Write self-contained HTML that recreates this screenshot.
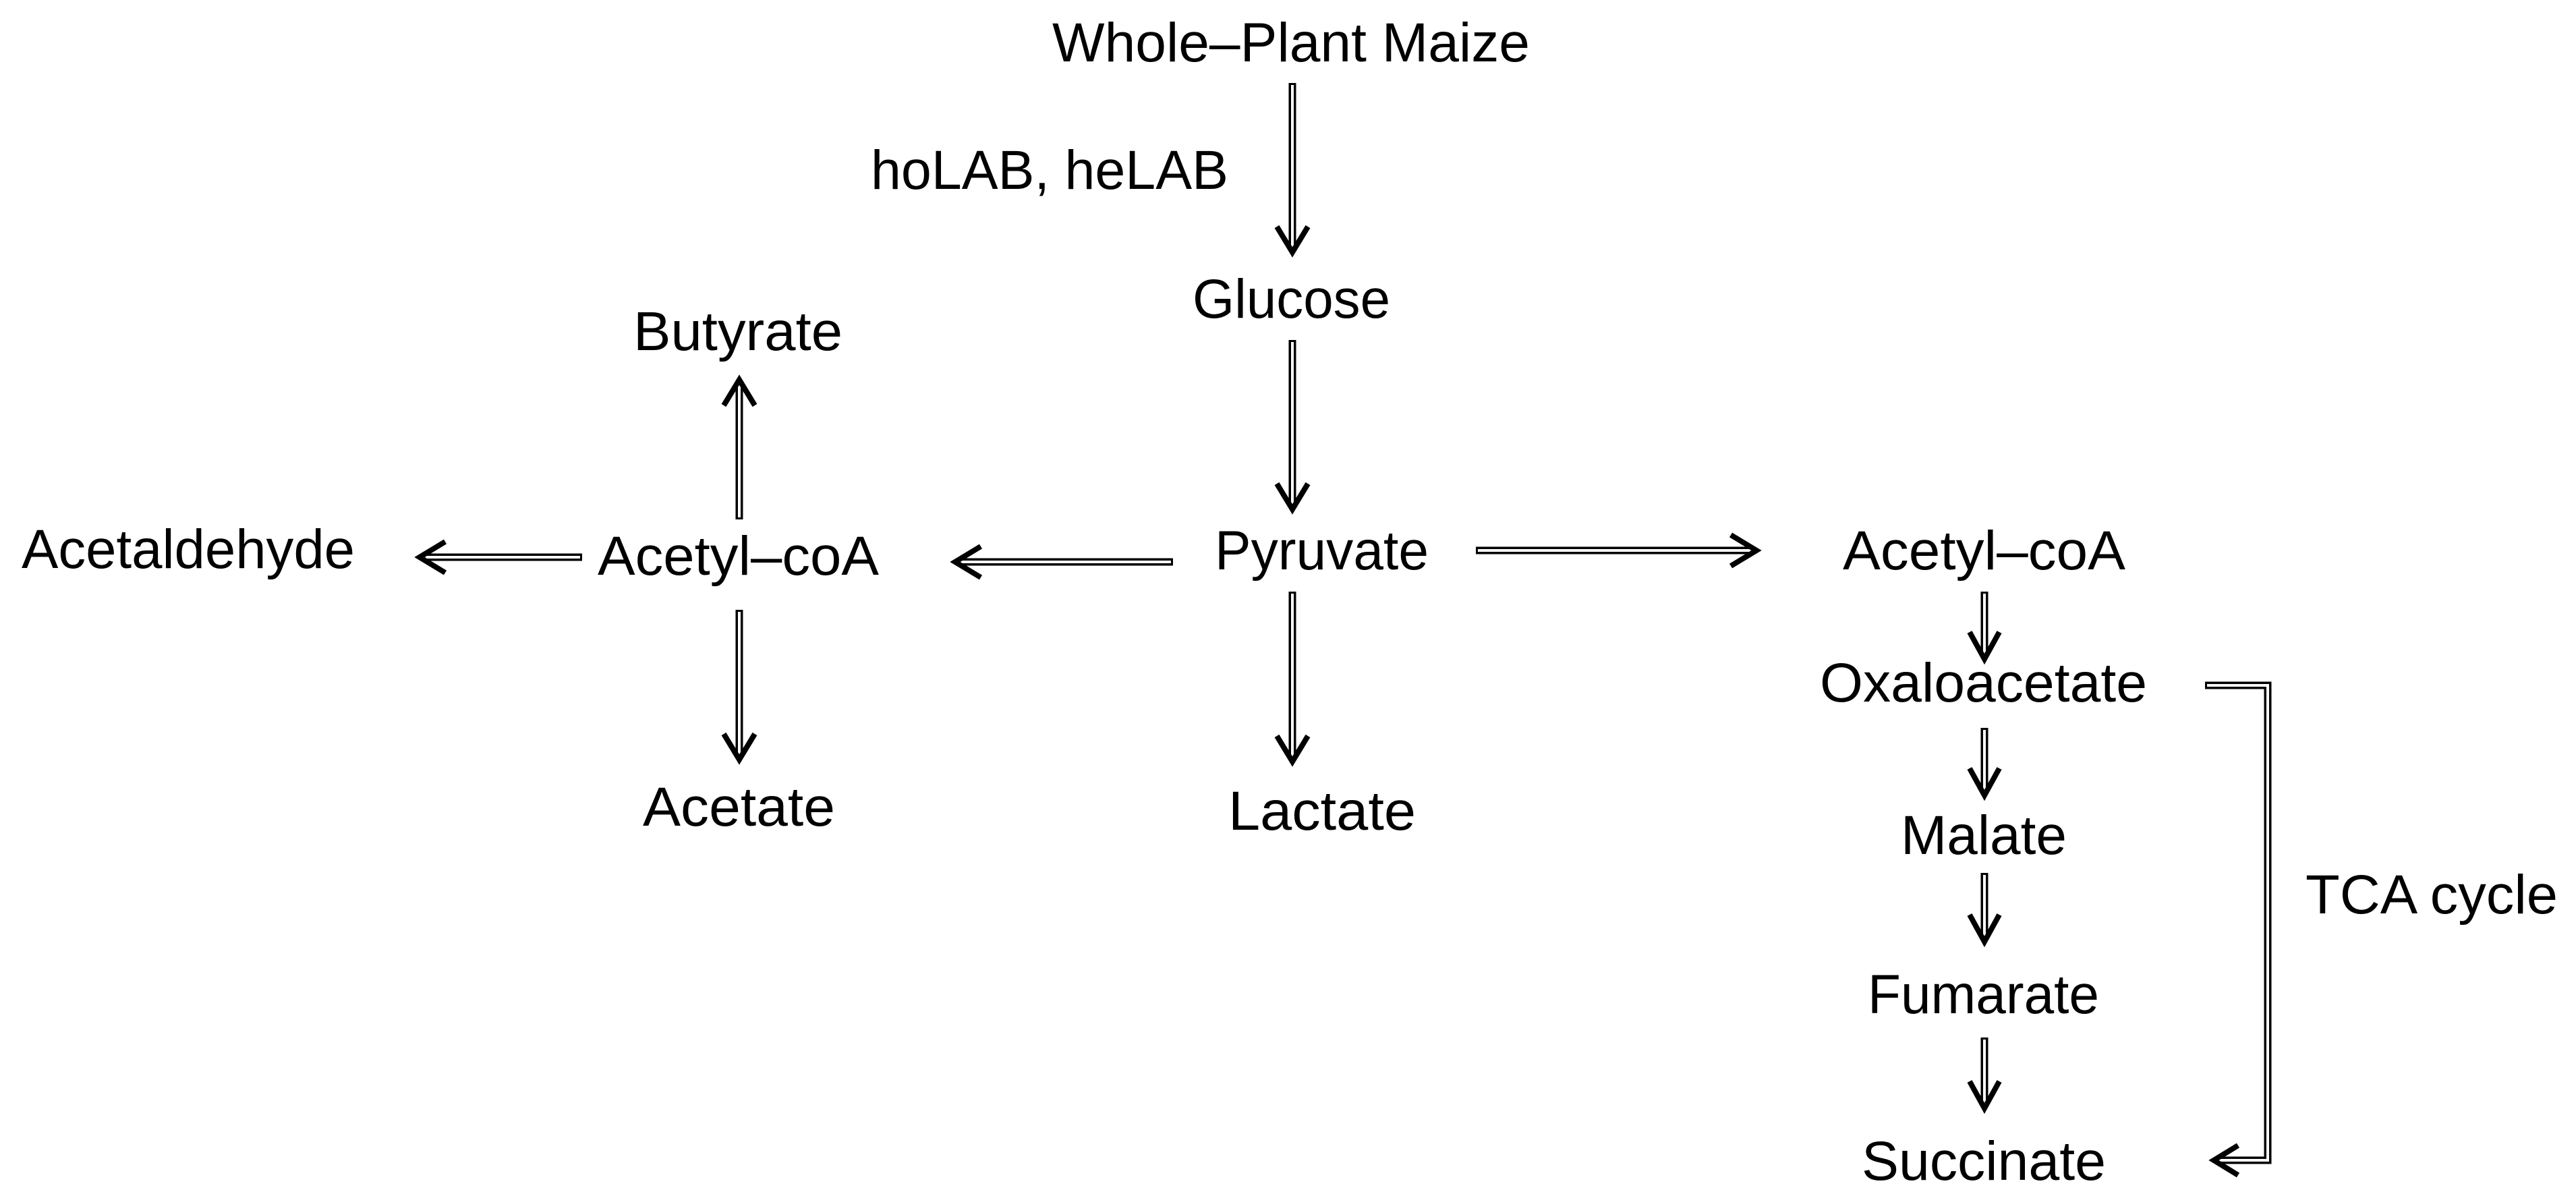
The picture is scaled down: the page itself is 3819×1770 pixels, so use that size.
<!DOCTYPE html>
<html><head><meta charset="utf-8">
<style>
html,body{margin:0;padding:0;background:#fff;}
svg{display:block;}
text{font-family:"Liberation Sans",sans-serif;font-size:82px;fill:#000;}
</style></head>
<body>
<svg width="3819" height="1770" viewBox="0 0 3819 1770" xmlns="http://www.w3.org/2000/svg">
<rect width="3819" height="1770" fill="#fff"/>
<g>
<text x="1560" y="91" textLength="708" lengthAdjust="spacingAndGlyphs">Whole–Plant Maize</text>
<text x="1291" y="280" textLength="530" lengthAdjust="spacingAndGlyphs">hoLAB, heLAB</text>
<text x="1768" y="471" textLength="293" lengthAdjust="spacingAndGlyphs">Glucose</text>
<text x="1801" y="844" textLength="317" lengthAdjust="spacingAndGlyphs">Pyruvate</text>
<text x="1821" y="1230" textLength="278" lengthAdjust="spacingAndGlyphs">Lactate</text>
<text x="939" y="519" textLength="310" lengthAdjust="spacingAndGlyphs">Butyrate</text>
<text x="32" y="842" textLength="494" lengthAdjust="spacingAndGlyphs">Acetaldehyde</text>
<text x="886" y="852" textLength="417" lengthAdjust="spacingAndGlyphs">Acetyl–coA</text>
<text x="953" y="1224" textLength="285" lengthAdjust="spacingAndGlyphs">Acetate</text>
<text x="2732" y="844" textLength="419" lengthAdjust="spacingAndGlyphs">Acetyl–coA</text>
<text x="2698" y="1040" textLength="485" lengthAdjust="spacingAndGlyphs">Oxaloacetate</text>
<text x="2818" y="1266" textLength="246" lengthAdjust="spacingAndGlyphs">Malate</text>
<text x="2769" y="1502" textLength="343" lengthAdjust="spacingAndGlyphs">Fumarate</text>
<text x="2760" y="1749" textLength="362" lengthAdjust="spacingAndGlyphs">Succinate</text>
<text x="3418" y="1354" textLength="374" lengthAdjust="spacingAndGlyphs">TCA cycle</text>
</g>
<g fill="none" stroke-linejoin="miter" stroke-linecap="butt">
<!-- vertical down arrows -->
<g id="arrows">
<!-- 1 -->
<line x1="1916" y1="123" x2="1916" y2="368" stroke="#000" stroke-width="11"/>
<line x1="1916" y1="126" x2="1916" y2="368" stroke="#fff" stroke-width="4"/>
<polyline points="1893,336 1916,374 1939,336" stroke="#000" stroke-width="8"/>
<!-- 2 -->
<line x1="1916" y1="504" x2="1916" y2="750" stroke="#000" stroke-width="11"/>
<line x1="1916" y1="507" x2="1916" y2="750" stroke="#fff" stroke-width="4"/>
<polyline points="1893,717 1916,755 1939,717" stroke="#000" stroke-width="8"/>
<!-- 3 -->
<line x1="1916" y1="877" x2="1916" y2="1124" stroke="#000" stroke-width="11"/>
<line x1="1916" y1="880" x2="1916" y2="1124" stroke="#fff" stroke-width="4"/>
<polyline points="1893,1091 1916,1129 1939,1091" stroke="#000" stroke-width="8"/>
<!-- 8 acetyl down -->
<line x1="1096" y1="904" x2="1096" y2="1121" stroke="#000" stroke-width="11"/>
<line x1="1096" y1="907" x2="1096" y2="1121" stroke="#fff" stroke-width="4"/>
<polyline points="1073,1088 1096,1126 1119,1088" stroke="#000" stroke-width="8"/>
<!-- 7 acetyl up -->
<line x1="1096" y1="770" x2="1096" y2="568" stroke="#000" stroke-width="11"/>
<line x1="1096" y1="767" x2="1096" y2="568" stroke="#fff" stroke-width="4"/>
<polyline points="1073,601 1096,563 1119,601" stroke="#000" stroke-width="8"/>
<!-- 4 right -->
<line x1="2188" y1="816" x2="2598" y2="816" stroke="#000" stroke-width="11"/>
<line x1="2191" y1="816" x2="2598" y2="816" stroke="#fff" stroke-width="4"/>
<polyline points="2566,793 2604,816 2566,839" stroke="#000" stroke-width="8"/>
<!-- 5 left from pyruvate -->
<line x1="1739" y1="833" x2="1422" y2="833" stroke="#000" stroke-width="11"/>
<line x1="1736" y1="833" x2="1422" y2="833" stroke="#fff" stroke-width="4"/>
<polyline points="1454,810 1416,833 1454,856" stroke="#000" stroke-width="8"/>
<!-- 6 left to acetaldehyde -->
<line x1="863" y1="826" x2="628" y2="826" stroke="#000" stroke-width="11"/>
<line x1="860" y1="826" x2="628" y2="826" stroke="#fff" stroke-width="4"/>
<polyline points="660,803 622,826 660,849" stroke="#000" stroke-width="8"/>
<!-- right column -->
<line x1="2942" y1="877" x2="2942" y2="972" stroke="#000" stroke-width="11"/>
<line x1="2942" y1="880" x2="2942" y2="972" stroke="#fff" stroke-width="4"/>
<polyline points="2920,937 2942,977 2964,937" stroke="#000" stroke-width="8"/>
<line x1="2942" y1="1079" x2="2942" y2="1174" stroke="#000" stroke-width="11"/>
<line x1="2942" y1="1082" x2="2942" y2="1174" stroke="#fff" stroke-width="4"/>
<polyline points="2920,1139 2942,1179 2964,1139" stroke="#000" stroke-width="8"/>
<line x1="2942" y1="1294" x2="2942" y2="1391" stroke="#000" stroke-width="11"/>
<line x1="2942" y1="1297" x2="2942" y2="1391" stroke="#fff" stroke-width="4"/>
<polyline points="2920,1356 2942,1396 2964,1356" stroke="#000" stroke-width="8"/>
<line x1="2942" y1="1538" x2="2942" y2="1638" stroke="#000" stroke-width="11"/>
<line x1="2942" y1="1541" x2="2942" y2="1638" stroke="#fff" stroke-width="4"/>
<polyline points="2920,1603 2942,1643 2964,1603" stroke="#000" stroke-width="8"/>
<!-- TCA bracket -->
<polyline points="3269,1016 3362,1016 3362,1720 3288,1720" stroke="#000" stroke-width="11"/>
<polyline points="3272,1016 3362,1016 3362,1720 3288,1720" stroke="#fff" stroke-width="4"/>
<polyline points="3318,1698 3282,1720 3318,1742" stroke="#000" stroke-width="8"/>
</g>
</g>
</svg>
</body></html>
